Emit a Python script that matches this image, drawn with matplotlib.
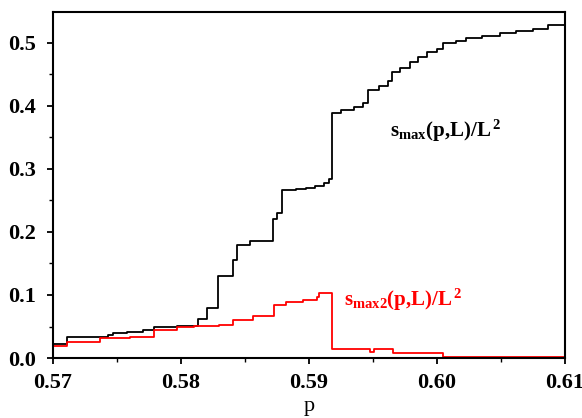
import numpy as np
import matplotlib.pyplot as plt
from matplotlib.ticker import MultipleLocator

plt.rcParams['font.family'] = 'Liberation Serif'
plt.rcParams['mathtext.fontset'] = 'custom'
plt.rcParams['mathtext.rm'] = 'Liberation Serif'
plt.rcParams['mathtext.bf'] = 'Liberation Serif:bold'

# s_max(p,L)/L^2 (curva negra)
p_max = [0.5700, 0.5711, 0.5743, 0.5747, 0.5758, 0.5770, 0.5779, 0.5797, 0.5813,
         0.5820, 0.5829, 0.5841, 0.5844, 0.5854, 0.5864, 0.5872, 0.58722, 0.5875,
         0.5879, 0.5890, 0.5898, 0.5905, 0.5912, 0.5916, 0.5918, 0.5925, 0.5935,
         0.5942, 0.5946, 0.5955, 0.5962, 0.5965, 0.5971, 0.5979, 0.5985, 0.5992,
         0.6000, 0.6005, 0.6015, 0.6023, 0.6035, 0.6049, 0.6062, 0.6075, 0.6087,
         0.6100]
s_max = [0.023, 0.034, 0.037, 0.040, 0.042, 0.045, 0.049, 0.051, 0.062,
         0.079, 0.130, 0.156, 0.179, 0.185, 0.186, 0.191, 0.220, 0.230,
         0.266, 0.268, 0.270, 0.273, 0.278, 0.284, 0.388, 0.393, 0.398,
         0.404, 0.425, 0.432, 0.439, 0.454, 0.460, 0.470, 0.478, 0.486,
         0.490, 0.4995, 0.503, 0.507, 0.511, 0.515, 0.519, 0.522, 0.529,
         0.531]

# s_max2(p,L)/L^2 (curva roja)
p_max2 = [0.5700, 0.5711, 0.5737, 0.5760, 0.5779, 0.5797, 0.5810, 0.5830, 0.5841,
          0.5856, 0.5873, 0.5882, 0.5895, 0.5906, 0.5908, 0.5918, 0.5948, 0.5951,
          0.5966, 0.6005, 0.6100]
s_max2 = [0.019, 0.025, 0.031, 0.033, 0.044, 0.050, 0.051, 0.052, 0.060,
          0.066, 0.084, 0.089, 0.092, 0.097, 0.103, 0.014, 0.010, 0.014,
          0.0074, 0.002, 0.001]

fig = plt.figure(figsize=(5.82, 4.18), dpi=100)
ax = fig.add_axes([0.0911, 0.1435, 0.8797, 0.8278])

ax.plot(p_max, s_max, drawstyle='steps-post', color='black', lw=1.3)
ax.plot(p_max2, s_max2, drawstyle='steps-post', color='red', lw=1.3)

ax.set_xlim(0.57, 0.61)
ax.set_ylim(0, 0.549)
ax.xaxis.set_major_locator(MultipleLocator(0.01))
ax.xaxis.set_minor_locator(MultipleLocator(0.005))
ax.yaxis.set_major_locator(MultipleLocator(0.1))
ax.yaxis.set_minor_locator(MultipleLocator(0.05))
ax.xaxis.set_major_formatter(plt.FuncFormatter(lambda v, pos: f"{v:.2f}"))
ax.yaxis.set_major_formatter(plt.FuncFormatter(lambda v, pos: f"{v:.1f}"))

ax.tick_params(which='major', direction='out', length=4.5, width=1.3, labelsize=16)
ax.tick_params(axis='x', which='major', pad=6)
ax.tick_params(axis='y', which='major', pad=8)
ax.tick_params(which='minor', direction='out', length=3, width=1.0)
for lab in ax.get_xticklabels() + ax.get_yticklabels():
    lab.set_fontweight('bold')
for s in ax.spines.values():
    s.set_linewidth(1.5)

# etiqueta del eje x debajo de los numeros
ax.set_xlabel('p', fontsize=16)
ax.xaxis.label.set_va('baseline')
ax.xaxis.set_label_coords(0.5, -0.152)

ax.text(0.5963, 0.351, r'$\mathbf{s_{max}(p{,}L)/L^{\,2}}$', fontsize=15,
        color='black', va='baseline')
ax.text(0.5927, 0.0825, r'$\mathbf{s_{max2}(p{,}L)/L^{\,2}}$', fontsize=15,
        color='red', va='baseline')

plt.savefig('out.png', dpi=100)
